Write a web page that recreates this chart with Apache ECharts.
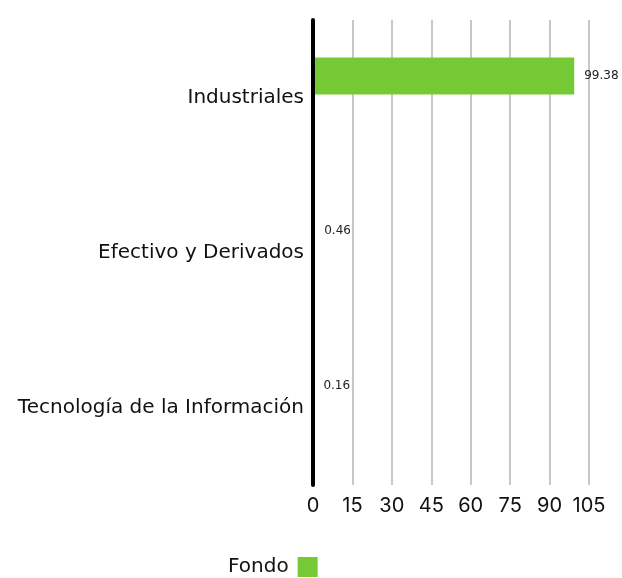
<!DOCTYPE html>
<html>
<head>
<meta charset="utf-8">
<script src="https://cdn.jsdelivr.net/npm/echarts@6/dist/echarts.min.js"></script>
<style>
  html, body { margin: 0; padding: 0; background: #fff; }
  #main { width: 622px; height: 578px; }
</style>
</head>
<body>
<div id="main"></div>
<script>
// sectores, de abajo hacia arriba en el eje
var categories = ['Tecnología de la Información', 'Efectivo y Derivados', 'Industriales'];
var fondo = [0.16, 0.46, 99.38];
var otro = ['-', '-', '-']; // serie vacía que ocupa el segundo hueco del grupo

var chart = echarts.init(document.getElementById('main'));

chart.setOption({
  animation: false,
  textStyle: { fontFamily: '"DejaVu Sans", sans-serif' },
  grid: { left: 313, right: 33, top: 20, bottom: 93 },
  legend: {
    data: ['Fondo'],
    top: 557,
    left: 228,
    padding: 0,
    align: 'right',
    icon: 'rect',
    itemWidth: 20,
    itemHeight: 20,
    itemGap: 8,
    textStyle: { fontSize: 20, color: '#111', padding: [0, 4, 0, 0] }
  },
  xAxis: {
    type: 'value',
    min: 0,
    max: 105,
    interval: 15,
    axisLine: { show: false },
    axisTick: { show: false },
    splitLine: { lineStyle: { color: '#c8c8c8', width: 2 } },
    axisLabel: { fontSize: 20, color: '#111', margin: 11, fontFamily: 'Inter, sans-serif' }
  },
  yAxis: {
    type: 'category',
    data: categories,
    z: 5,
    axisLine: { lineStyle: { color: '#000', width: 4 } },
    axisTick: { show: false },
    axisLabel: { fontSize: 20, color: '#111', margin: 9 }
  },
  series: [
    {
      name: 'Fondo',
      type: 'bar',
      data: fondo,
      barWidth: 37,
      barGap: '16%',
      itemStyle: { color: '#74c935' },
      label: {
        show: true,
        position: 'right',
        distance: 10,
        fontSize: 12,
        color: '#222'
      }
    },
    {
      name: 'Referencia',
      type: 'bar',
      data: otro,
      barWidth: 37,
      itemStyle: { color: '#999' }
    }
  ]
});
</script>
</body>
</html>
